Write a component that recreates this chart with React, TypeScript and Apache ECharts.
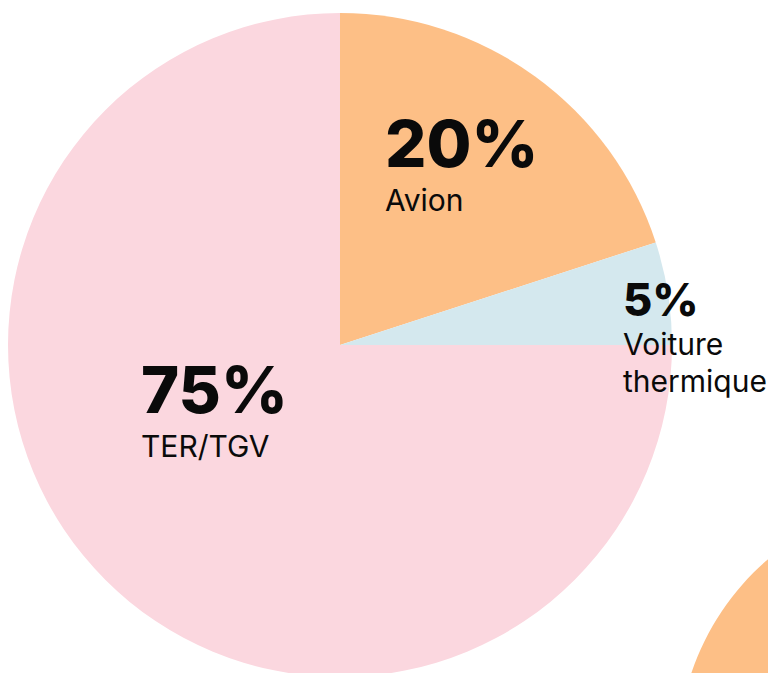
import React, { useEffect, useRef } from "react";
import * as echarts from "echarts";

const categories = ["Avion", "Voiture\nthermique", "TER/TGV"];
const values = [20, 5, 75];
const colors = ["#FDBF86", "#D4E8EE", "#FBD7DF"];
// label anchors (left, top) in pixels
const labelAnchors = [
  [385, 106],
  [623, 274],
  [141, 352],
];
const pctStyleKeys = ["big", "small", "big"];

export default function App() {
  const ref = useRef<HTMLDivElement>(null);
  useEffect(() => {
    document.body.style.margin = "0";
    const chart = echarts.init(ref.current!, null, { renderer: "svg" });
    chart.setOption({
      animation: false,
      backgroundColor: "#ffffff",
      graphic: [
        {
          type: "circle",
          shape: { cx: 936, cy: 755, r: 258 },
          style: { fill: "#FDBF86" },
          silent: true,
        },
      ],
      series: [
        {
          type: "pie",
          center: [340, 345],
          radius: [0, 332],
          startAngle: 90,
          clockwise: true,
          silent: true,
          itemStyle: { borderWidth: 0 },
          labelLine: { show: false },
          label: {
            show: true,
            position: "inside",
            color: "#0a0a0a",
            fontFamily: "Inter",
            align: "left",
            formatter: (p: any) => {
              const key = pctStyleKeys[p.dataIndex];
              const lines = String(p.name)
                .split("\n")
                .map((l) => `{name|${l}}`)
                .join("\n");
              return `{${key}|${p.value}%}\n${lines}`;
            },
            rich: {
              big: {
                fontFamily: "Inter",
                fontWeight: 800,
                fontSize: 65,
                lineHeight: 75,
                color: "#0a0a0a",
                align: "left",
              },
              small: {
                fontFamily: "Inter",
                fontWeight: 800,
                fontSize: 45,
                lineHeight: 51,
                color: "#0a0a0a",
                align: "left",
              },
              name: {
                fontFamily: "Inter",
                fontWeight: 400,
                fontSize: 30,
                lineHeight: 37,
                color: "#0a0a0a",
                align: "left",
              },
            },
          },
          labelLayout: (params: any) => ({
            x: labelAnchors[params.dataIndex][0],
            y: labelAnchors[params.dataIndex][1],
            align: "left",
            verticalAlign: "top",
          }),
          data: categories.map((name, i) => ({
            name,
            value: values[i],
            itemStyle: { color: colors[i] },
          })),
        },
      ],
    });
    return () => chart.dispose();
  }, []);
  return <div ref={ref} style={{ width: 768, height: 673 }} />;
}
